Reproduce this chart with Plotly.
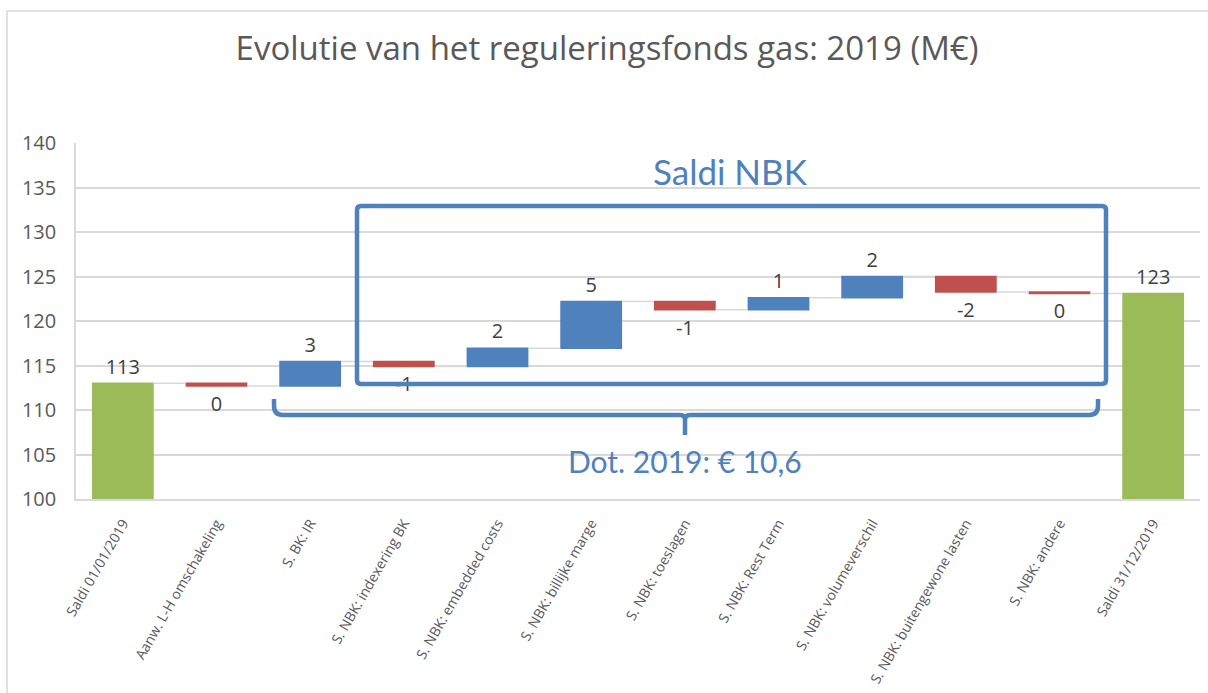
import plotly.graph_objects as go

categories = [
    "Saldi 01/01/2019",
    "Aanw. L-H omschakeling",
    "S. BK: IR",
    "S. NBK: indexering BK",
    "S. NBK: embedded costs",
    "S. NBK: billijke marge",
    "S. NBK: toeslagen",
    "S. NBK: Rest Term",
    "S. NBK: volumeverschil",
    "S. NBK: buitengewone lasten",
    "S. NBK: andere",
    "Saldi 31/12/2019",
]
values = [113.0, -0.3, 2.75, -0.56, 2.06, 5.25, -0.94, 1.35, 2.4, -1.76, -0.16, 0]
measures = ["absolute"] + ["relative"] * 10 + ["total"]
labels = ["113", "0", "3", "-1", "2", "5", "-1", "1", "2", "-2", "0", "123"]
y_ticks = [100, 105, 110, 115, 120, 125, 130, 135, 140]

BLUE = "#4F81BD"
RED = "#C0504D"
GREEN = "#9BBB59"
GRID = "#D9D9D9"
TXT = "#595959"

fig = go.Figure(
    go.Waterfall(
        x=categories,
        y=values,
        measure=measures,
        text=labels,
        textposition="outside",
        textfont=dict(family="Open Sans", size=20, color="#404040"),
        increasing=dict(marker=dict(color=BLUE)),
        decreasing=dict(marker=dict(color=RED)),
        totals=dict(marker=dict(color=GREEN)),
        connector=dict(line=dict(color=GRID, width=1.5)),
        hoverinfo="skip",
        cliponaxis=False,
    )
)

# plot area geometry: left 76, right 1200, top 143, bottom 499
L, R, T, B = 76, 1200, 143, 499
W, H = R - L, B - T


def px(x):
    return (x - L) / W


def py(y):
    return (B - y) / H


# outer chart frame
fig.add_shape(type="rect", xref="paper", yref="paper",
              x0=px(7), x1=px(1230), y0=py(11), y1=py(720),
              line=dict(color=GRID, width=1.5), layer="below")

# Saldi NBK box with slightly rounded corners
bx0, bx1, by0, by1 = px(357), px(1106), py(384), py(206)
rx, ry = 4 / W, 4 / H
box_path = (
    f"M {bx0+rx},{by1} L {bx1-rx},{by1} Q {bx1},{by1} {bx1},{by1-ry} "
    f"L {bx1},{by0+ry} Q {bx1},{by0} {bx1-rx},{by0} "
    f"L {bx0+rx},{by0} Q {bx0},{by0} {bx0},{by0+ry} "
    f"L {bx0},{by1-ry} Q {bx0},{by1} {bx0+rx},{by1} Z"
)
fig.add_shape(type="path", xref="paper", yref="paper", path=box_path,
              line=dict(color=BLUE, width=4.5))

# bracket
lx, rxx, mx = px(274), px(1098), px(685)
yt, yh, yb = py(399), py(415), py(435)
cx, cy = 9 / W, 9 / H
sx, sy = 5 / W, 5 / H
br_path = (
    f"M {lx},{yt} L {lx},{yh+cy} Q {lx},{yh} {lx+cx},{yh} "
    f"L {mx-sx},{yh} Q {mx},{yh} {mx},{yh-sy} L {mx},{yb} "
    f"M {mx},{yh-sy} Q {mx},{yh} {mx+sx},{yh} "
    f"L {rxx-cx},{yh} Q {rxx},{yh} {rxx},{yh+cy} L {rxx},{yt}"
)
fig.add_shape(type="path", xref="paper", yref="paper", path=br_path,
              line=dict(color=BLUE, width=4.5))

fig.add_annotation(xref="paper", yref="paper", x=px(730), y=py(171),
                   xanchor="center", yanchor="middle",
                   text="Saldi NBK", showarrow=False,
                   font=dict(family="Lato", size=35, color=BLUE))
fig.add_annotation(xref="paper", yref="paper", x=px(685), y=py(461),
                   xanchor="center", yanchor="middle",
                   text="Dot. 2019: € 10,6", showarrow=False,
                   font=dict(family="Lato", size=30, color=BLUE))

fig.update_layout(
    width=1208,
    height=693,
    margin=dict(l=L, r=1208 - R, t=T, b=693 - B, autoexpand=False),
    paper_bgcolor="white",
    plot_bgcolor="white",
    showlegend=False,
    waterfallgap=0.34,
    title=dict(text="Evolutie van het reguleringsfonds gas: 2019 (M€)",
               x=607 / 1208, xref="container", xanchor="center",
               y=1 - 48 / 693, yanchor="middle",
               font=dict(family="Open Sans", size=33, color=TXT)),
    font=dict(family="Open Sans", color=TXT),
    yaxis=dict(range=[100, 140], tickvals=y_ticks, showgrid=True,
               gridcolor=GRID, gridwidth=1.5, showline=True,
               linecolor=GRID, linewidth=1.5, zeroline=False,
               automargin=False,
               tickfont=dict(size=20, color=TXT), ticklabelstandoff=14),
    xaxis=dict(showline=True, linecolor=GRID, linewidth=1.5,
               automargin=False,
               tickangle=-60, tickfont=dict(size=14, color=TXT),
               ticklabelstandoff=9),
)

fig.write_html(
    "out.html",
    config={"displayModeBar": False},
    post_script="document.body.style.margin='0';"
                "document.body.style.overflow='hidden';",
)
